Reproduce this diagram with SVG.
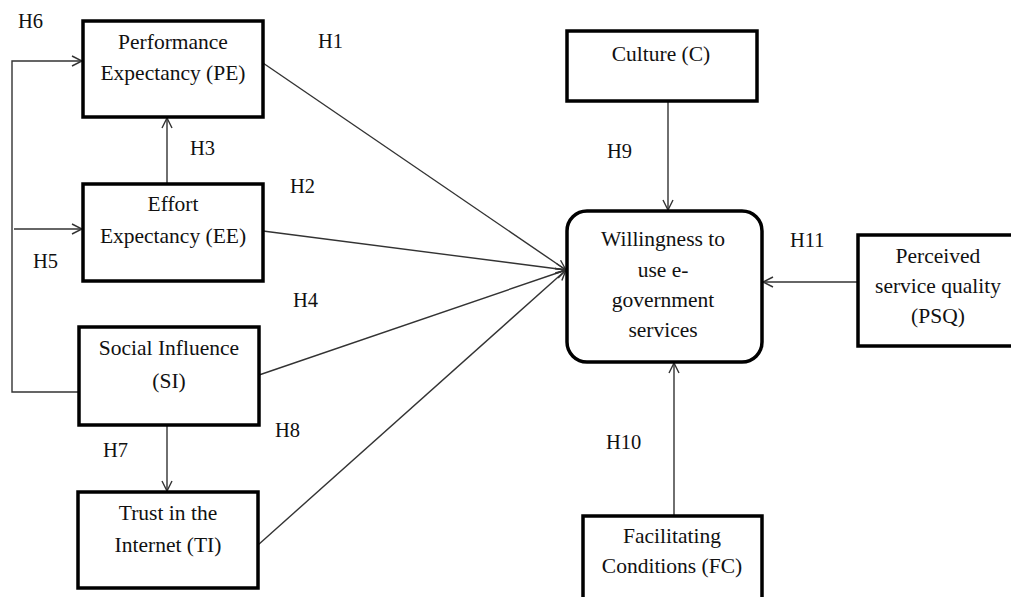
<svg xmlns="http://www.w3.org/2000/svg" width="1011" height="597" viewBox="0 0 1011 597">
<style>
.box{fill:#fff;stroke:#000;stroke-width:3.5}
.t{font-family:"Liberation Serif","Times New Roman",serif;font-size:21.5px;fill:#111;text-anchor:middle}
.h{font-family:"Liberation Serif","Times New Roman",serif;font-size:20.5px;fill:#111}
.c{fill:none;stroke:#333;stroke-width:1.4}
</style>
<defs>
<marker id="arr" viewBox="0 0 12 12" refX="11" refY="6" markerWidth="12" markerHeight="12" markerUnits="userSpaceOnUse" orient="auto">
<path d="M1,1 L11,6 L1,11" fill="none" stroke="#333" stroke-width="1.4"/>
</marker>
</defs>
<rect width="1011" height="597" fill="#fff"/>
<g id="connectors">
<path class="c" d="M79,392 H12 V61 H82" marker-end="url(#arr)"/>
<path class="c" d="M14,229 H82" marker-end="url(#arr)"/>
<path class="c" d="M167,183 V118" marker-end="url(#arr)"/>
<path class="c" d="M167,425 V491" marker-end="url(#arr)"/>
<path class="c" d="M263,63 L566,270" marker-end="url(#arr)"/>
<path class="c" d="M263,231 L566,270" marker-end="url(#arr)"/>
<path class="c" d="M259,375 L566,270" marker-end="url(#arr)"/>
<path class="c" d="M258,545 L566,270" marker-end="url(#arr)"/>
<path class="c" d="M668,101 V210" marker-end="url(#arr)"/>
<path class="c" d="M858,282 H763" marker-end="url(#arr)"/>
<path class="c" d="M674,516 V363" marker-end="url(#arr)"/>
</g>
<g id="PE"><rect class="box" x="83" y="21" width="180" height="96"/><text class="t" x="173" y="49">Performance</text><text class="t" x="173" y="80">Expectancy (PE)</text></g>
<g id="EE"><rect class="box" x="83" y="184" width="180" height="97"/><text class="t" x="173" y="211">Effort</text><text class="t" x="173" y="243">Expectancy (EE)</text></g>
<g id="SI"><rect class="box" x="79" y="327" width="180" height="98"/><text class="t" x="169" y="355">Social Influence</text><text class="t" x="169" y="388">(SI)</text></g>
<g id="TI"><rect class="box" x="78" y="492" width="180" height="96"/><text class="t" x="168" y="520">Trust in the</text><text class="t" x="168" y="552">Internet (TI)</text></g>
<g id="C"><rect class="box" x="567" y="31" width="190" height="70"/><text class="t" x="661" y="61">Culture (C)</text></g>
<g id="W"><rect class="box" x="567" y="211" width="195" height="151" rx="20" ry="20"/><text class="t" x="663" y="246">Willingness to</text><text class="t" x="663" y="277">use e-</text><text class="t" x="663" y="307">government</text><text class="t" x="663" y="337">services</text></g>
<g id="PSQ"><rect class="box" x="858" y="235" width="170" height="111"/><text class="t" x="938" y="263">Perceived</text><text class="t" x="938" y="293">service quality</text><text class="t" x="938" y="323">(PSQ)</text></g>
<g id="FC"><rect class="box" x="583" y="516" width="179" height="100"/><text class="t" x="672" y="543">Facilitating</text><text class="t" x="672" y="573">Conditions (FC)</text></g>
<g id="labels">
<text class="h" x="18" y="28">H6</text>
<text class="h" x="318" y="48">H1</text>
<text class="h" x="190" y="155">H3</text>
<text class="h" x="290" y="193">H2</text>
<text class="h" x="33" y="268">H5</text>
<text class="h" x="293" y="307">H4</text>
<text class="h" x="275" y="437">H8</text>
<text class="h" x="103" y="457">H7</text>
<text class="h" x="607" y="158">H9</text>
<text class="h" x="790" y="247">H11</text>
<text class="h" x="606" y="449">H10</text>
</g>
</svg>
